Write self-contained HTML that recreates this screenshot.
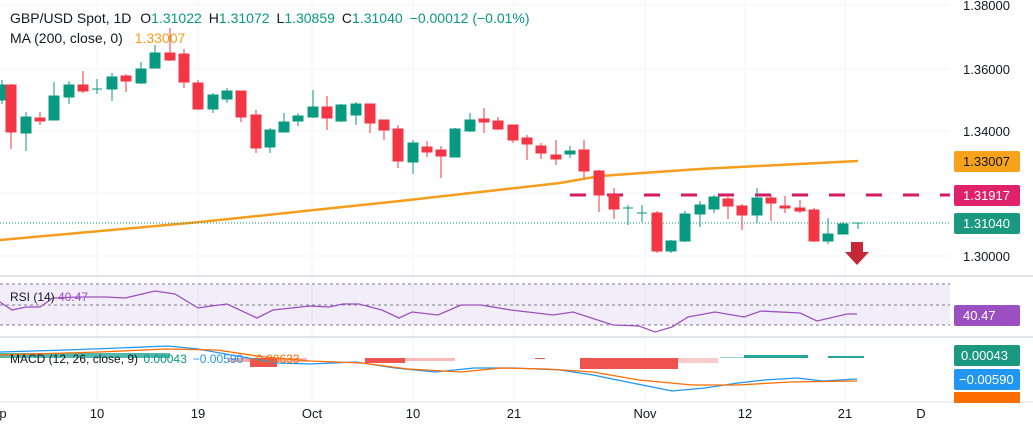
<!DOCTYPE html>
<html><head><meta charset="utf-8"><style>
body{margin:0;background:#fff;}
svg{display:block;font-family:"Liberation Sans",sans-serif;}
</style></head><body>
<svg width="1033" height="431" viewBox="0 0 1033 431" xmlns="http://www.w3.org/2000/svg">
<rect width="1033" height="431" fill="#fff"/>
<g stroke="#f0f3fa" stroke-width="1">
<line x1="0" y1="5" x2="950" y2="5"/><line x1="0" y1="69" x2="950" y2="69"/><line x1="0" y1="131" x2="950" y2="131"/><line x1="0" y1="193" x2="950" y2="193"/><line x1="0" y1="256" x2="950" y2="256"/>
<line x1="97" y1="0" x2="97" y2="402"/><line x1="198" y1="0" x2="198" y2="402"/><line x1="312" y1="0" x2="312" y2="402"/><line x1="413" y1="0" x2="413" y2="402"/><line x1="514" y1="0" x2="514" y2="402"/><line x1="645" y1="0" x2="645" y2="402"/><line x1="745" y1="0" x2="745" y2="402"/><line x1="845" y1="0" x2="845" y2="402"/>
</g>
<line x1="0" y1="276" x2="1033" y2="276" stroke="#e0e3eb" stroke-width="2"/>
<line x1="0" y1="337" x2="1033" y2="337" stroke="#e0e3eb" stroke-width="2"/>
<line x1="0" y1="402" x2="1033" y2="402" stroke="#e0e3eb" stroke-width="1"/>
<polyline fill="none" stroke="#f59d1c" stroke-width="2.5" points="0,240 200,222 400,201 560,183 600,176 700,169 858,161"/>
<line x1="0" y1="223" x2="950" y2="223" stroke="#089981" stroke-width="1" stroke-dasharray="1,2"/>
<line x1="570" y1="195" x2="950" y2="195" stroke="#d81b60" stroke-width="3" stroke-dasharray="16,21"/>
<g id="c">
<g stroke="#089981" fill="#089981">
<line x1="2" y1="80" x2="2" y2="104"/><rect x="-3" y="85" width="9" height="15"/>
<line x1="26" y1="112" x2="26" y2="151"/><rect x="21" y="117" width="10" height="16"/>
<line x1="54" y1="82" x2="54" y2="120"/><rect x="49" y="96" width="10" height="24"/>
<line x1="69" y1="81" x2="69" y2="104"/><rect x="64" y="85" width="10" height="12"/>
<line x1="97" y1="79" x2="97" y2="94"/><line x1="92" y1="89" x2="102" y2="89"/>
<line x1="112" y1="73" x2="112" y2="101"/><rect x="107" y="77" width="10" height="12"/>
<line x1="141" y1="62" x2="141" y2="84"/><rect x="136" y="69" width="10" height="14"/>
<line x1="155" y1="45" x2="155" y2="68"/><rect x="150" y="53" width="10" height="15"/>
<line x1="213" y1="93" x2="213" y2="113"/><rect x="208" y="95" width="10" height="14"/>
<line x1="227" y1="88" x2="227" y2="103"/><rect x="222" y="91" width="10" height="8"/>
<line x1="270" y1="128" x2="270" y2="153"/><rect x="265" y="130" width="10" height="17"/>
<line x1="284" y1="113" x2="284" y2="132"/><rect x="279" y="122" width="10" height="10"/>
<line x1="298" y1="113" x2="298" y2="126"/><rect x="293" y="116" width="10" height="5"/>
<line x1="313" y1="90" x2="313" y2="118"/><rect x="308" y="107" width="10" height="10"/>
<line x1="341" y1="104" x2="341" y2="122"/><rect x="336" y="105" width="10" height="16"/>
<line x1="356" y1="102" x2="356" y2="125"/><rect x="351" y="104" width="10" height="11"/>
<line x1="413" y1="140" x2="413" y2="174"/><rect x="408" y="143" width="10" height="19"/>
<line x1="455" y1="128" x2="455" y2="157"/><rect x="450" y="129" width="10" height="28"/>
<line x1="470" y1="113" x2="470" y2="132"/><rect x="465" y="120" width="10" height="11"/>
<line x1="570" y1="146" x2="570" y2="158"/><rect x="565" y="151" width="10" height="3"/>
<line x1="628" y1="205" x2="628" y2="225"/><line x1="623" y1="208" x2="633" y2="208"/>
<line x1="642" y1="205" x2="642" y2="222"/><line x1="637" y1="213" x2="647" y2="213"/>
<line x1="671" y1="240" x2="671" y2="253"/><rect x="666" y="241" width="10" height="10"/>
<line x1="685" y1="211" x2="685" y2="242"/><rect x="680" y="214" width="10" height="27"/>
<line x1="700" y1="201" x2="700" y2="227"/><rect x="695" y="205" width="10" height="9"/>
<line x1="714" y1="195" x2="714" y2="213"/><rect x="709" y="197" width="10" height="12"/>
<line x1="757" y1="188" x2="757" y2="223"/><rect x="752" y="198" width="10" height="17"/>
<line x1="828" y1="218" x2="828" y2="244"/><rect x="823" y="234" width="10" height="7"/>
<line x1="843" y1="222" x2="843" y2="234"/><rect x="838" y="224" width="10" height="10"/>
<line x1="858" y1="223" x2="858" y2="229"/><line x1="853" y1="223" x2="863" y2="223"/>
</g>
<g stroke="#f23645" fill="#f23645">
<line x1="11" y1="84" x2="11" y2="149"/><rect x="6" y="85" width="10" height="47"/>
<line x1="40" y1="112" x2="40" y2="125"/><rect x="35" y="118" width="10" height="3"/>
<line x1="83" y1="71" x2="83" y2="93"/><rect x="78" y="85" width="10" height="6"/>
<line x1="126" y1="74" x2="126" y2="92"/><rect x="121" y="76" width="10" height="5"/>
<line x1="170" y1="28" x2="170" y2="61"/><rect x="165" y="53" width="10" height="7"/>
<line x1="184" y1="49" x2="184" y2="88"/><rect x="179" y="54" width="10" height="28"/>
<line x1="198" y1="80" x2="198" y2="110"/><rect x="193" y="83" width="10" height="26"/>
<line x1="241" y1="91" x2="241" y2="122"/><rect x="236" y="91" width="10" height="26"/>
<line x1="256" y1="110" x2="256" y2="153"/><rect x="251" y="115" width="10" height="33"/>
<line x1="327" y1="96" x2="327" y2="130"/><rect x="322" y="107" width="10" height="11"/>
<line x1="370" y1="104" x2="370" y2="133"/><rect x="365" y="104" width="10" height="19"/>
<line x1="384" y1="120" x2="384" y2="140"/><rect x="379" y="120" width="10" height="10"/>
<line x1="398" y1="125" x2="398" y2="168"/><rect x="393" y="129" width="10" height="32"/>
<line x1="427" y1="141" x2="427" y2="157"/><rect x="422" y="147" width="10" height="5"/>
<line x1="441" y1="146" x2="441" y2="178"/><rect x="436" y="150" width="10" height="6"/>
<line x1="484" y1="108" x2="484" y2="133"/><rect x="479" y="119" width="10" height="3"/>
<line x1="498" y1="117" x2="498" y2="130"/><rect x="493" y="121" width="10" height="8"/>
<line x1="513" y1="125" x2="513" y2="143"/><rect x="508" y="125" width="10" height="15"/>
<line x1="527" y1="135" x2="527" y2="160"/><rect x="522" y="138" width="10" height="6"/>
<line x1="541" y1="143" x2="541" y2="159"/><rect x="536" y="146" width="10" height="7"/>
<line x1="556" y1="140" x2="556" y2="165"/><rect x="551" y="155" width="10" height="4"/>
<line x1="584" y1="140" x2="584" y2="178"/><rect x="579" y="150" width="10" height="21"/>
<line x1="599" y1="170" x2="599" y2="212"/><rect x="594" y="171" width="10" height="24"/>
<line x1="614" y1="188" x2="614" y2="219"/><rect x="609" y="195" width="10" height="14"/>
<line x1="657" y1="211" x2="657" y2="253"/><rect x="652" y="213" width="10" height="38"/>
<line x1="728" y1="197" x2="728" y2="219"/><rect x="723" y="199" width="10" height="7"/>
<line x1="742" y1="204" x2="742" y2="230"/><rect x="737" y="206" width="10" height="9"/>
<line x1="771" y1="195" x2="771" y2="221"/><rect x="766" y="198" width="10" height="5"/>
<line x1="785" y1="196" x2="785" y2="213"/><rect x="780" y="206" width="10" height="2"/>
<line x1="800" y1="200" x2="800" y2="213"/><rect x="795" y="208" width="10" height="3"/>
<line x1="814" y1="208" x2="814" y2="242"/><rect x="809" y="210" width="10" height="31"/>
</g>
</g>
<polygon points="851,242 863,242 863,252 869,252 857,265 845,252 851,252" fill="#c62835"/>
<g font-size="13" fill="#131722">
<text x="963" y="10">1.38000</text><text x="963" y="74">1.36000</text><text x="963" y="136">1.34000</text><text x="963" y="261">1.30000</text>
</g>
<rect x="954" y="151" width="66" height="21" rx="2" fill="#f7a21b"/><text x="963" y="166" font-size="13" fill="#131722">1.33007</text>
<rect x="954" y="185" width="66" height="21" rx="2" fill="#e0226a"/><text x="963" y="200" font-size="13" fill="#fff">1.31917</text>
<rect x="954" y="213" width="66" height="21" rx="2" fill="#1a9980"/><text x="963" y="228" font-size="13" fill="#fff">1.31040</text>
<g font-size="14">
<text x="10" y="23" fill="#131722">GBP/USD Spot, 1D <tspan dx="5">O</tspan><tspan fill="#089981">1.31022</tspan><tspan dx="7">H</tspan><tspan fill="#089981">1.31072</tspan><tspan dx="7">L</tspan><tspan fill="#089981">1.30859</tspan><tspan dx="7">C</tspan><tspan fill="#089981">1.31040</tspan><tspan dx="7" fill="#089981">−0.00012 (−0.01%)</tspan></text>
<text x="10" y="43" fill="#131722">MA (200, close, 0) <tspan dx="8" fill="#f59d1c">1.33007</tspan></text>
</g>
<rect x="0" y="284" width="950" height="41" fill="#7e57c2" fill-opacity="0.1"/>
<g stroke="#787b86" stroke-dasharray="3,3"><line x1="0" y1="284" x2="950" y2="284"/><line x1="0" y1="305" x2="950" y2="305"/><line x1="0" y1="325" x2="950" y2="325"/></g>
<polyline fill="none" stroke="#9c4fc0" stroke-width="1.3" points="0,302 12,310 26,307 40,307 53,298 79,297 105,297 125,298 155,291 175,294 198,308 211,306 227,304 257,318 273,310 310,306 329,307 343,304 359,304 382,310 399,318 412,312 438,315 461,305 481,305 511,310 553,315 573,312 613,325 639,326 655,332 672,327 688,317 715,312 744,317 761,311 800,313 817,321 847,314 857,314"/>
<text x="10" y="301" font-size="12" fill="#131722">RSI (14) <tspan fill="#9c4fc0">40.47</tspan></text>
<rect x="954" y="305" width="66" height="21" rx="2" fill="#9c4fc0"/><text x="963" y="320" font-size="13" fill="#fff">40.47</text>
<g fill="#26a69a">
<rect x="0" y="353" width="170" height="5" fill-opacity="0.8"/>
<rect x="744" y="355" width="64" height="3"/>
<rect x="720" y="357" width="24" height="1" fill-opacity="0.5"/>
<rect x="828" y="356" width="36" height="2"/>
</g>
<g fill="#ef5350">
<rect x="228" y="358" width="22" height="4" fill-opacity="0.5"/>
<rect x="250" y="358" width="27" height="9"/>
<rect x="277" y="358" width="30" height="4" fill-opacity="0.4"/>
<rect x="365" y="358" width="40" height="5"/>
<rect x="405" y="358" width="50" height="3" fill-opacity="0.4"/>
<rect x="535" y="358" width="10" height="1"/>
<rect x="580" y="358" width="98" height="11"/>
<rect x="678" y="358" width="40" height="5" fill-opacity="0.3"/>
</g>
<polyline fill="none" stroke="#2196f3" stroke-width="1.3" points="0,352 66,350 119,348 168,346 198,349 231,355 277,363 310,364 356,362 395,368 435,372 474,368 514,368 560,370 593,375 632,383 672,391 705,388 738,383 764,380 797,378 823,381 857,379"/>
<polyline fill="none" stroke="#ff6d00" stroke-width="1.3" points="0,355 99,352 165,349 217,350 264,357 310,361 362,363 408,369 461,372 501,368 547,369 593,372 639,380 692,385 738,385 790,382 857,381"/>
<text x="10" y="363" font-size="12" fill="#131722">MACD (12, 26, close, 9) <tspan dx="2" fill="#089981">0.00043</tspan><tspan dx="6" fill="#2196f3">−0.00590</tspan><tspan dx="6" fill="#ff6d00">−0.00633</tspan></text>
<rect x="954" y="345" width="66" height="21" rx="2" fill="#1a9980"/><text x="961" y="360" font-size="13" fill="#fff">0.00043</text>
<rect x="954" y="369" width="66" height="21" rx="2" fill="#2196f3"/><text x="959" y="384" font-size="13" fill="#fff">−0.00590</text>
<rect x="954" y="392" width="66" height="11" fill="#ff6d00"/>
<rect x="950" y="403" width="83" height="28" fill="#fff"/>
<g font-size="13" fill="#131722" text-anchor="middle">
<text x="3" y="418">p</text><text x="97" y="418">10</text><text x="198" y="418">19</text><text x="312" y="418">Oct</text><text x="413" y="418">10</text><text x="514" y="418">21</text><text x="645" y="418">Nov</text><text x="745" y="418">12</text><text x="845" y="418">21</text><text x="921" y="418">D</text>
</g>
</svg>
</body></html>
